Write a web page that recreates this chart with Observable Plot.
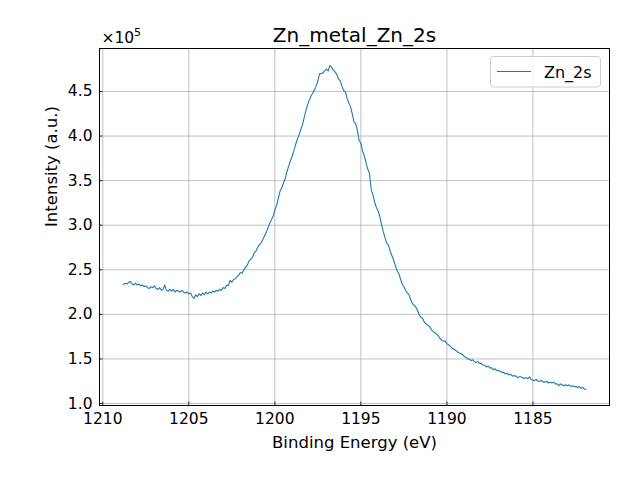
<!DOCTYPE html>
<html>
<head>
<meta charset="utf-8">
<script src="https://cdn.jsdelivr.net/npm/d3@7"></script>
<script src="https://cdn.jsdelivr.net/npm/@observablehq/plot@0.6"></script>
<style>
  html, body { margin: 0; padding: 0; background: #fff; }
  #chart { width: 640px; height: 480px; }
</style>
</head>
<body>
<div id="chart"></div>
<script>
const title = "Zn_metal_Zn_2s";
const seriesName = "Zn_2s";
const xLabel = "Binding Energy (eV)";
const yLabel = "Intensity (a.u.)";
const yOffsetBase = "×10";
const yOffsetExp = "5";
const xTicks = [1210, 1205, 1200, 1195, 1190, 1185];
const yTicks = [1.0, 1.5, 2.0, 2.5, 3.0, 3.5, 4.0, 4.5];

const energy = [
  1208.8,1208.7,1208.6,1208.5,1208.4,1208.3,1208.2,1208.1,1208.0,
  1207.9,1207.8,1207.7,1207.6,1207.5,1207.4,1207.3,1207.2,1207.1,1207.0,
  1206.9,1206.8,1206.7,1206.6,1206.5,1206.4,1206.3,1206.2,1206.1,1206.0,
  1205.9,1205.8,1205.7,1205.6,1205.5,1205.4,1205.3,1205.2,1205.1,1205.0,
  1204.9,1204.8,1204.7,1204.6,1204.5,1204.4,1204.3,1204.2,1204.1,1204.0,
  1203.9,1203.8,1203.7,1203.6,1203.5,1203.4,1203.3,1203.2,1203.1,1203.0,
  1202.9,1202.8,1202.7,1202.6,1202.5,1202.4,1202.3,1202.2,1202.1,1202.0,
  1201.9,1201.8,1201.7,1201.6,1201.5,1201.4,1201.3,1201.2,1201.1,1201.0,
  1200.9,1200.8,1200.7,1200.6,1200.5,1200.4,1200.3,1200.2,1200.1,1200.0,
  1199.9,1199.8,1199.7,1199.6,1199.5,1199.4,1199.3,1199.2,1199.1,1199.0,
  1198.9,1198.8,1198.7,1198.6,1198.5,1198.4,1198.3,1198.2,1198.1,1198.0,
  1197.9,1197.8,1197.7,1197.6,1197.5,1197.4,1197.3,1197.2,1197.1,1197.0,
  1196.9,1196.8,1196.7,1196.6,1196.5,1196.4,1196.3,1196.2,1196.1,1196.0,
  1195.9,1195.8,1195.7,1195.6,1195.5,1195.4,1195.3,1195.2,1195.1,1195.0,
  1194.9,1194.8,1194.7,1194.6,1194.5,1194.4,1194.3,1194.2,1194.1,1194.0,
  1193.9,1193.8,1193.7,1193.6,1193.5,1193.4,1193.3,1193.2,1193.1,1193.0,
  1192.9,1192.8,1192.7,1192.6,1192.5,1192.4,1192.3,1192.2,1192.1,1192.0,
  1191.9,1191.8,1191.7,1191.6,1191.5,1191.4,1191.3,1191.2,1191.1,1191.0,
  1190.9,1190.8,1190.7,1190.6,1190.5,1190.4,1190.3,1190.2,1190.1,1190.0,
  1189.9,1189.8,1189.7,1189.6,1189.5,1189.4,1189.3,1189.2,1189.1,1189.0,
  1188.9,1188.8,1188.7,1188.6,1188.5,1188.4,1188.3,1188.2,1188.1,1188.0,
  1187.9,1187.8,1187.7,1187.6,1187.5,1187.4,1187.3,1187.2,1187.1,1187.0,
  1186.9,1186.8,1186.7,1186.6,1186.5,1186.4,1186.3,1186.2,1186.1,1186.0,
  1185.9,1185.8,1185.7,1185.6,1185.5,1185.4,1185.3,1185.2,1185.1,1185.0,
  1184.9,1184.8,1184.7,1184.6,1184.5,1184.4,1184.3,1184.2,1184.1,1184.0,
  1183.9,1183.8,1183.7,1183.6,1183.5,1183.4,1183.3,1183.2,1183.1,1183.0,
  1182.9,1182.8,1182.7,1182.6,1182.5,1182.4,1182.3,1182.2,1182.1,1182.0,
  1181.9
];

// intensity in units of 1e5 counts
const intensity = [
  2.33,2.35,2.34,2.36,2.37,2.34,2.33,2.35,2.33,
  2.34,2.32,2.33,2.31,2.32,2.30,2.29,2.31,2.30,2.32,
  2.29,2.28,2.30,2.27,2.28,2.33,2.27,2.26,2.28,2.26,
  2.28,2.25,2.27,2.26,2.25,2.27,2.25,2.24,2.25,2.23,
  2.24,2.20,2.18,2.22,2.20,2.23,2.21,2.24,2.22,2.25,
  2.23,2.25,2.24,2.26,2.25,2.27,2.26,2.28,2.27,2.30,
  2.29,2.33,2.32,2.38,2.36,2.39,2.40,2.42,2.44,2.47,
  2.46,2.50,2.53,2.55,2.60,2.62,2.64,2.69,2.71,2.75,
  2.78,2.80,2.84,2.88,2.92,2.97,3.02,3.06,3.10,3.17,
  3.22,3.30,3.38,3.42,3.47,3.52,3.60,3.66,3.72,3.77,
  3.83,3.90,3.96,4.01,4.07,4.12,4.20,4.28,4.35,4.40,
  4.45,4.48,4.52,4.56,4.62,4.70,4.70,4.71,4.73,4.75,
  4.73,4.79,4.77,4.74,4.72,4.69,4.64,4.62,4.56,4.51,
  4.50,4.42,4.37,4.33,4.25,4.16,4.14,4.06,3.95,3.92,
  3.83,3.78,3.70,3.63,3.58,3.40,3.34,3.26,3.20,3.16,
  3.10,3.01,2.93,2.86,2.80,2.78,2.71,2.66,2.61,2.55,
  2.49,2.46,2.40,2.34,2.31,2.27,2.24,2.22,2.16,2.12,
  2.10,2.08,2.04,1.99,1.97,1.95,1.91,1.89,1.88,1.86,
  1.83,1.81,1.79,1.78,1.76,1.73,1.71,1.70,1.70,1.67,
  1.66,1.64,1.62,1.61,1.60,1.58,1.57,1.56,1.55,1.53,
  1.52,1.50,1.50,1.48,1.49,1.47,1.46,1.47,1.45,1.45,
  1.43,1.43,1.41,1.42,1.40,1.40,1.38,1.39,1.37,1.37,
  1.36,1.35,1.35,1.33,1.34,1.32,1.33,1.31,1.31,1.31,
  1.29,1.30,1.30,1.29,1.28,1.29,1.28,1.30,1.27,1.26,
  1.26,1.27,1.25,1.25,1.26,1.24,1.24,1.25,1.23,1.24,
  1.23,1.24,1.22,1.22,1.20,1.22,1.21,1.20,1.21,1.20,
  1.21,1.19,1.20,1.19,1.19,1.18,1.19,1.17,1.18,1.16,
  1.16
];

const data = energy.map((e, i) => ({energy: e, intensity: intensity[i]}));

const W = 640, H = 480;
const mL = 99, mR = 31, mT = 48, mB = 75;
const frameW = W - mL - mR, frameH = H - mT - mB;
const lineColor = "#1f77b4";
const font = "DejaVu Sans, Liberation Sans, sans-serif";

const chart = Plot.plot({
  width: W,
  height: H,
  marginLeft: mL,
  marginRight: mR,
  marginTop: mT,
  marginBottom: mB,
  style: {fontFamily: font, fontSize: "15.5px", background: "#fff", color: "#000"},
  x: {domain: [1210.19, 1180.55], label: null},
  y: {domain: [0.978, 4.982], label: null},
  marks: [
    Plot.gridX(xTicks, {stroke: "#b0b0b0", strokeOpacity: 1, strokeWidth: 0.8}),
    Plot.gridY(yTicks, {stroke: "#b0b0b0", strokeOpacity: 1, strokeWidth: 0.8}),
    Plot.line(data, {x: "energy", y: "intensity", stroke: lineColor, strokeWidth: 1.1}),
    Plot.tickX(xTicks, {x: d => d, stroke: "#000", strokeWidth: 0.8, insetTop: frameH - 3.5}),
    Plot.tickY(yTicks, {y: d => d, stroke: "#000", strokeWidth: 0.8, insetRight: frameW - 3.5}),
    Plot.axisX(xTicks, {tickSize: 0, tickPadding: 7.5, tickFormat: d => String(d), fontSize: 15.5, label: null}),
    Plot.axisY(yTicks, {tickSize: 0, tickPadding: 7, tickFormat: d3.format(".1f"), fontSize: 15.5, label: null}),
    Plot.frame({stroke: "#000", strokeWidth: 1}),
    Plot.text([title], {text: d => d, frameAnchor: "top", lineAnchor: "middle", dy: -13.4, fontSize: 20, fill: "#000"}),
    Plot.text([xLabel], {text: d => d, frameAnchor: "bottom", lineAnchor: "middle", dy: 37.7, fontSize: 16.5, fill: "#000"}),
    Plot.text([yLabel], {text: d => d, frameAnchor: "left", lineAnchor: "middle", dx: -48, rotate: -90, fontSize: 16.5, fill: "#000"})
  ]
});

const svg = d3.select(chart);

// axis offset text (×10^5), matplotlib style
const off = svg.append("text")
  .attr("x", mL + 2.4).attr("y", 42.7)
  .attr("text-anchor", "start")
  .attr("font-family", font).attr("font-size", 15.5).attr("fill", "#000");
off.append("tspan").text(yOffsetBase);
off.append("tspan").attr("dy", -6.5).attr("font-size", 11).text(yOffsetExp);

// legend (upper right, matplotlib style)
const lg = svg.append("g").attr("class", "legend");
lg.append("rect")
  .attr("x", 490.5).attr("y", 56.5).attr("width", 110).attr("height", 30.5)
  .attr("rx", 3).attr("ry", 3)
  .attr("fill", "#fff").attr("fill-opacity", 0.8)
  .attr("stroke", "#cccccc").attr("stroke-width", 1);
lg.append("line")
  .attr("x1", 497).attr("x2", 531).attr("y1", 71.5).attr("y2", 71.5)
  .attr("stroke", lineColor).attr("stroke-width", 1.1);
lg.append("text")
  .attr("x", 544).attr("y", 77.5)
  .attr("text-anchor", "start")
  .attr("font-family", font).attr("font-size", 16).attr("fill", "#000")
  .text(seriesName);

document.getElementById("chart").appendChild(chart);
</script>
</body>
</html>
